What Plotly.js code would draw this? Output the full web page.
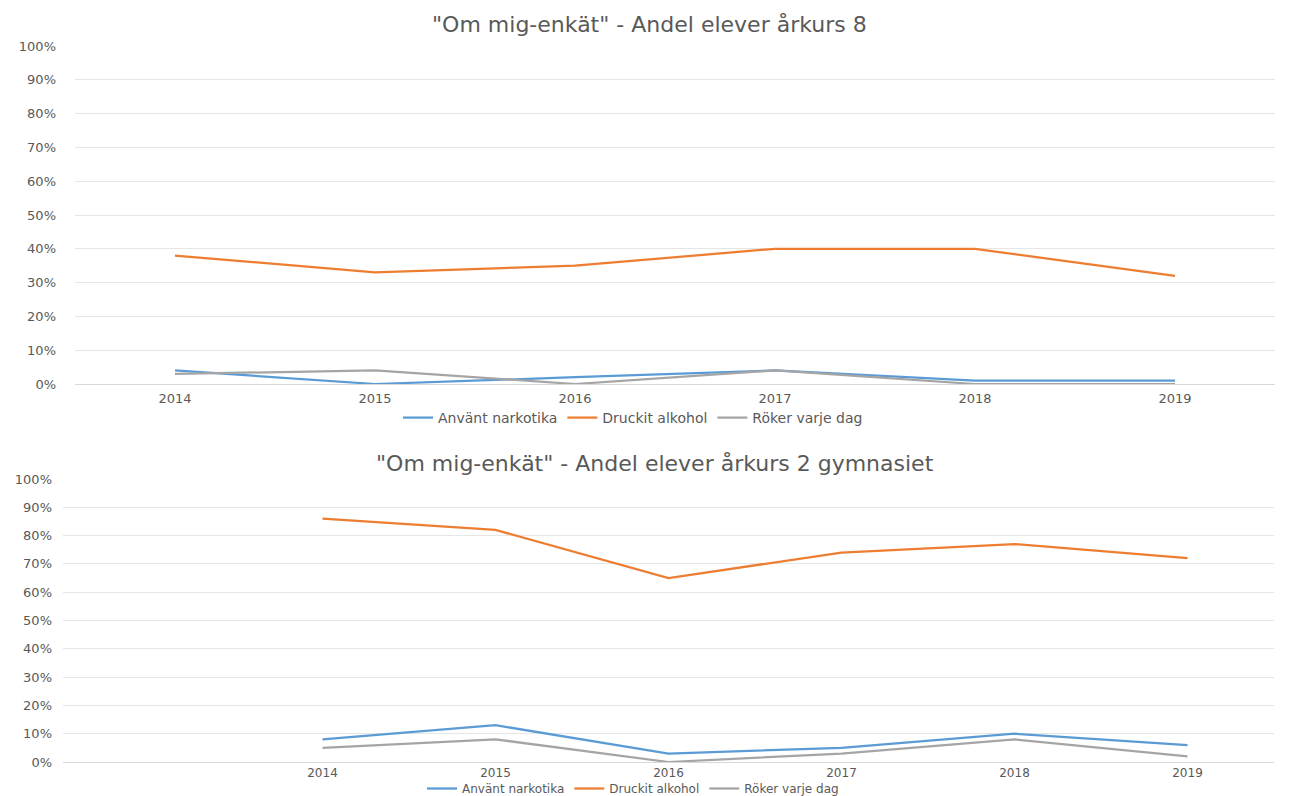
<!DOCTYPE html>
<html>
<head>
<meta charset="utf-8">
<script src="https://cdn.plot.ly/plotly-3.0.1.min.js"></script>
<style>html,body{margin:0;padding:0;background:#fff;overflow:hidden;}#chart{width:100vw;height:100vh;}</style>
</head>
<body>
<div id="chart"></div>
<script>
// Categories (years)
const years = [2014, 2015, 2016, 2017, 2018, 2019];
const yearLabels = ["2014", "2015", "2016", "2017", "2018", "2019"];

// Series names
const seriesNames = ["Använt narkotika", "Druckit alkohol", "Röker varje dag"];

// Chart 1: årkurs 8 (percent)
const ak8_narkotika = [4, 0, 2, 4, 1, 1];
const ak8_alkohol   = [38, 33, 35, 40, 40, 32];
const ak8_roker     = [3, 4, 0, 4, 0, 0];

// Chart 2: årkurs 2 gymnasiet (percent)
const gy2_narkotika = [8, 13, 3, 5, 10, 6];
const gy2_alkohol   = [86, 82, 65, 74, 77, 72];
const gy2_roker     = [5, 8, 0, 3, 8, 2];

// Y ticks
const yTicks = [0, 10, 20, 30, 40, 50, 60, 70, 80, 90, 100];
const yTickLabels = yTicks.map(v => v + "%");

const colors = ["#5B9BD5", "#ED7D31", "#A5A5A5"];
const textColor = "#595959";
const fontFam = "DejaVu Sans, sans-serif";

function mk(y, i, xa, ya, leg) {
  return {
    x: years, y: y, name: seriesNames[i], type: "scatter", mode: "lines",
    line: {color: colors[i], width: 2.25},
    xaxis: xa, yaxis: ya, legend: leg,
    hovertemplate: "%{x}: %{y}%<extra>" + seriesNames[i] + "</extra>"
  };
}

const data = [
  mk(ak8_narkotika, 0, "x", "y", "legend"),
  mk(ak8_alkohol, 1, "x", "y", "legend"),
  mk(ak8_roker, 2, "x", "y", "legend"),
  mk(gy2_narkotika, 0, "x2", "y2", "legend2"),
  mk(gy2_alkohol, 1, "x2", "y2", "legend2"),
  mk(gy2_roker, 2, "x2", "y2", "legend2")
];

// reference frame used for fractional placement
const RH = 796, RW = 1293;
const H = window.innerHeight || RH, W = window.innerWidth || RW;
function yf(px) { return (RH - px) / RH; }
function yd(topPx, botPx) { return [yf(botPx), yf(topPx)]; }
function xd(l, r) { return [l / RW, r / RW]; }

const xBase = {
  tickmode: "array", tickvals: years, ticktext: yearLabels,
  showgrid: false, zeroline: false, showline: false, ticks: "",
  tickfont: {family: fontFam, size: 13, color: textColor}, fixedrange: true
};
const yBase = {
  range: [0, 100], tickmode: "array", tickvals: yTicks, ticktext: yTickLabels,
  showgrid: true, gridcolor: "#e6e6e6", gridwidth: 1,
  zeroline: true, zerolinecolor: "#d9d9d9", zerolinewidth: 1,
  showline: false, ticks: "",
  tickfont: {family: fontFam, size: 13, color: textColor}, fixedrange: true
};

const legBase = {
  orientation: "h", x: 633 / RW, xanchor: "center", yanchor: "middle",
  font: {family: fontFam, size: 14, color: textColor}, bgcolor: "rgba(0,0,0,0)"
};

const layout = {
  width: W, height: H, autosize: false,
  margin: {l: 0, r: 0, t: 0, b: 0, autoexpand: false},
  paper_bgcolor: "#ffffff", plot_bgcolor: "#ffffff",
  font: {family: fontFam, color: textColor},
  showlegend: true,
  xaxis: Object.assign({}, xBase, {domain: xd(75, 1275), range: [2013.5, 2019.5], anchor: "y", ticklabelstandoff: 5}),
  yaxis: Object.assign({}, yBase, {domain: yd(46, 384), anchor: "x", ticklabelstandoff: 18}),
  xaxis2: Object.assign({}, xBase, {domain: xd(63, 1274), range: [2012.5, 2019.5], anchor: "y2", ticklabelstandoff: 2,
    tickfont: {family: fontFam, size: 12, color: textColor}}),
  yaxis2: Object.assign({}, yBase, {domain: yd(479, 762), anchor: "x2", ticklabelstandoff: 10}),
  legend: Object.assign({}, legBase, {y: yf(418)}),
  legend2: Object.assign({}, legBase, {y: yf(788.5), font: {family: fontFam, size: 12, color: textColor}}),
  annotations: [
    {text: "\"Om mig-enkät\" - Andel elever årkurs 8", xref: "paper", yref: "paper",
     x: 649 / RW, y: yf(25), xanchor: "center", yanchor: "middle", showarrow: false,
     font: {family: fontFam, size: 22, color: textColor}},
    {text: "\"Om mig-enkät\" - Andel elever årkurs 2 gymnasiet", xref: "paper", yref: "paper",
     x: 655 / RW, y: yf(463), xanchor: "center", yanchor: "middle", showarrow: false,
     font: {family: fontFam, size: 22, color: textColor}}
  ]
};

Plotly.newPlot("chart", data, layout, {displayModeBar: false});
</script>
</body>
</html>
